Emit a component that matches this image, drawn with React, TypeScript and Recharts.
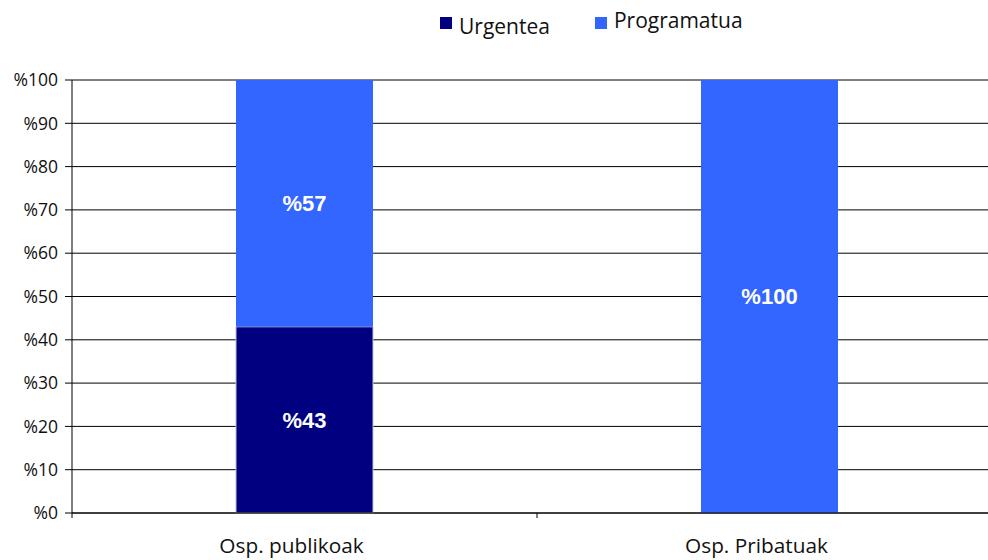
import React from "react";
import { BarChart, Bar, XAxis, YAxis, CartesianGrid, LabelList } from "recharts";

const categories = ["Osp. publikoak", "Osp. Pribatuak"];
const urgentea = [43, 0];
const programatua = [57, 100];
const yTicks = [0, 10, 20, 30, 40, 50, 60, 70, 80, 90, 100];

const series = [
  { key: "urgentea", name: "Urgentea", color: "#000080", dy: 3 },
  { key: "programatua", name: "Programatua", color: "#3366FF", dy: -3 },
];

const data = categories.map((c, i) => ({
  name: c,
  urgentea: urgentea[i],
  programatua: programatua[i],
}));

const CHART_W = 1010;
const CHART_H = 560;
const MARGIN = { top: 80, right: 8, bottom: 7, left: 0 };
const Y_W = 72;
const PLOT_W = CHART_W - MARGIN.left - MARGIN.right - Y_W;
const HALF_BAND = PLOT_W / categories.length / 2;

const XTick = (props: any) => {
  const { x, y, payload, index } = props;
  const half = payload && payload.offset ? payload.offset : HALF_BAND;
  const top = y - 8;
  return (
    <g>
      <line x1={x - half} x2={x - half} y1={top} y2={top + 5} stroke="#000" />
      {index === categories.length - 1 && (
        <line x1={x + half} x2={x + half} y1={top} y2={top + 5} stroke="#000" />
      )}
      <text
        x={x - 13}
        y={y + 32}
        textAnchor="middle"
        fontFamily="'Open Sans', sans-serif"
        fontSize={20.8}
        fill="#111"
      >
        {payload.value}
      </text>
    </g>
  );
};

const labelFmt = (v: any) => (v ? `%${v}` : "");

export default function App() {
  return (
    <div
      style={{
        position: "fixed",
        left: 0,
        top: 0,
        width: 988,
        height: 560,
        overflow: "hidden",
        background: "#fff",
      }}
    >
      <div
        style={{
          position: "absolute",
          top: 9,
          left: 440,
          display: "flex",
          alignItems: "center",
          fontFamily: "'Open Sans', sans-serif",
          fontSize: 21,
          color: "#111",
        }}
      >
        {series.map((s, i) => (
          <div
            key={s.key}
            style={{ display: "flex", alignItems: "center", marginRight: i === 0 ? 45 : 0 }}
          >
            <span
              style={{
                display: "inline-block",
                width: 12,
                height: 12,
                background: s.color,
                marginRight: 7,
              }}
            />
            <span style={{ position: "relative", top: s.dy }}>{s.name}</span>
          </div>
        ))}
      </div>
      <BarChart width={CHART_W} height={CHART_H} data={data} margin={MARGIN}>
        <CartesianGrid vertical={false} stroke="#000" strokeWidth={1} />
        <XAxis
          dataKey="name"
          height={40}
          axisLine={{ stroke: "#000" }}
          tickLine={false}
          tick={<XTick />}
          interval={0}
        />
        <YAxis
          width={Y_W}
          domain={[0, 100]}
          ticks={yTicks}
          interval={0}
          tickFormatter={(v: number) => `%${v}`}
          axisLine={{ stroke: "#000" }}
          tickLine={{ stroke: "#000" }}
          tickSize={7}
          tickMargin={7}
          tick={{ fontFamily: "'Open Sans', sans-serif", fontSize: 17.5, fill: "#111" }}
        />
        <Bar
          dataKey="urgentea"
          name="Urgentea"
          stackId="a"
          fill="#000080"
          stroke="#c0c0c8"
          strokeWidth={1}
          barSize={137}
          isAnimationActive={false}
        >
          <LabelList
            dataKey="urgentea"
            position="center"
            formatter={labelFmt}
            fill="#fff"
            fontFamily="'Liberation Sans', Arial, sans-serif"
            fontWeight="bold"
            fontSize={22}
          />
        </Bar>
        <Bar
          dataKey="programatua"
          name="Programatua"
          stackId="a"
          fill="#3366FF"
          barSize={137}
          isAnimationActive={false}
        >
          <LabelList
            dataKey="programatua"
            position="center"
            formatter={labelFmt}
            fill="#fff"
            fontFamily="'Liberation Sans', Arial, sans-serif"
            fontWeight="bold"
            fontSize={22}
          />
        </Bar>
      </BarChart>
    </div>
  );
}
